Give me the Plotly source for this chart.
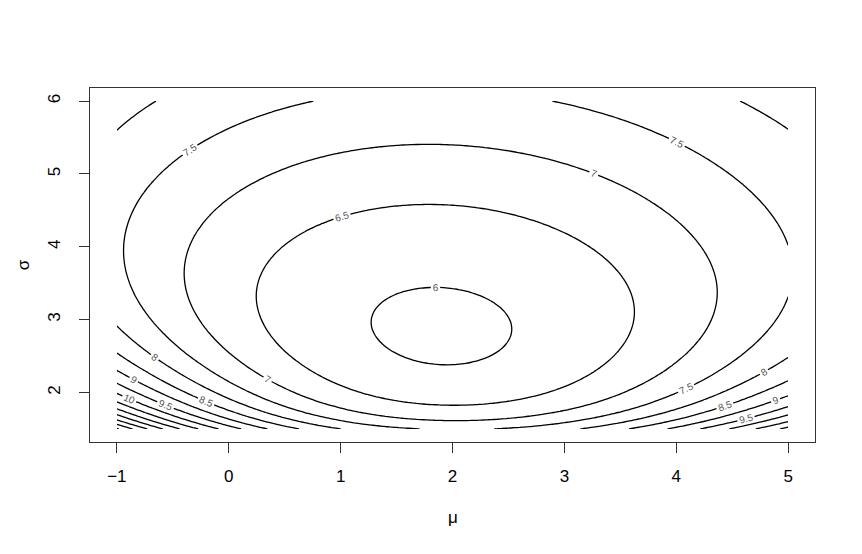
import numpy as np
import plotly.graph_objects as go

# contour crossings, one list per level: (mu, sigma)
pts_6 = [(1.914, 3.41), (1.4375, 3.30), (1.29, 2.98), (1.265, 2.90), (1.93, 2.38),
         (2.05, 3.39), (2.375, 3.21), (2.54, 2.91), (2.547, 2.90)]
pts_6_5 = [(1.825, 4.54), (1.14, 4.48), (0.694, 4.32), (0.426, 3.99), (0.277, 3.44),
           (0.268, 3.25), (0.32, 2.91), (2.05, 4.54), (2.67, 4.41), (3.12, 4.13),
           (3.48, 3.72), (3.64, 3.26), (3.60, 2.91), (1.96, 1.85)]
pts_7 = [(1.825, 5.38), (1.14, 5.33), (0.545, 5.17), (0.098, 4.87), (-0.2, 4.45),
         (-0.363, 3.90), (-0.378, 3.62), (-0.229, 2.91), (1.96, 5.38), (2.82, 5.22),
         (3.42, 4.87), (3.86, 4.45), (4.25, 3.90), (4.38, 3.44), (4.28, 2.91),
         (2.0, 1.62), (-0.05, 2.58), (4.09, 2.58)]
pts_7_5 = [(0.872, 6.0), (0.247, 5.70), (-0.348, 5.32), (-0.646, 4.87), (-0.884, 4.36),
           (-0.944, 3.99), (-0.854, 3.44), (-0.646, 2.91), (2.985, 6.0), (3.15, 5.93),
           (3.30, 5.885), (4.01, 5.42), (4.46, 4.96), (4.76, 4.55), (5.0, 4.18),
           (5.0, 3.35), (4.875, 2.91), (1.32, 1.52), (2.67, 1.54), (-0.4375, 2.58),
           (4.59, 2.58)]
pts_8 = [(-1.0, 2.88), (-1.0, 5.63), (-0.64, 6.0), (-0.81, 5.84), (4.58, 6.0),
         (4.70, 5.91), (5.0, 5.62), (5.0, 2.51), (0.81, 1.52), (3.19, 1.52),
         (-0.765, 2.58)]
pts_8_5 = [(-1.0, 2.52), (5.0, 2.18), (0.35, 1.575), (3.67, 1.53)]
pts_9 = [(-1.0, 2.29), (5.0, 1.95), (0.024, 1.62), (4.09, 1.56)]
pts_9_5 = [(-1.0, 2.11), (5.0, 1.80), (-0.26, 1.66), (4.34, 1.53)]
pts_10 = [(-1.0, 1.97), (5.0, 1.67), (-0.616, 1.73), (4.61, 1.53)]
pts_10_5 = [(-1.0, 1.87), (5.0, 1.56)]
pts_11 = [(-1.0, 1.77)]
pts_11_5 = [(-1.0, 1.70)]
pts_12 = [(-1.0, 1.64), (-0.81, 1.53)]
pts_12_5 = [(-1.0, 1.59)]
pts_13 = [(-1.0, 1.54)]
pts_13_5 = [(-1.0, 1.50)]

levels = [6, 6.5, 7, 7.5, 8, 8.5, 9, 9.5, 10, 10.5, 11, 11.5, 12, 12.5, 13, 13.5]
crossings = [pts_6, pts_6_5, pts_7, pts_7_5, pts_8, pts_8_5, pts_9, pts_9_5, pts_10,
             pts_10_5, pts_11, pts_11_5, pts_12, pts_12_5, pts_13, pts_13_5]

mu_grid = np.linspace(-1, 5, 151)
sigma_grid = np.linspace(1.5, 6, 121)


def basis(mu, s):
    u = np.asarray(mu, dtype=float) - 2.0
    s = np.asarray(s, dtype=float)
    return np.stack([np.ones_like(u), np.log(s), 1 / s, 1 / s**2, 1 / s**3, s,
                     u, u / s, u / s**2, u * np.log(s), u**2, u**2 / s, u**2 / s**2,
                     u**2 / s**3, u**2 * np.log(s), u**3 / s**2, u**4 / s**2,
                     u**3 / s, u**4 / s], axis=-1)


# smooth surface through the read-off crossings
mu_pts = np.array([p[0] for pts in crossings for p in pts])
sigma_pts = np.array([p[1] for pts in crossings for p in pts])
level_pts = np.array([lv for lv, pts in zip(levels, crossings) for _ in pts], dtype=float)

A = basis(mu_pts, sigma_pts)
w = np.ones(len(level_pts))
h = 1e-4
for _ in range(4):
    # weight each crossing by 1/|gradient| so the fit works in distance, not in level
    coef, *_ = np.linalg.lstsq(A * w[:, None], level_pts * w, rcond=None)
    gx = (basis(mu_pts + h, sigma_pts) - basis(mu_pts - h, sigma_pts)) @ coef / (2 * h)
    gy = (basis(mu_pts, sigma_pts + h) - basis(mu_pts, sigma_pts - h)) @ coef / (2 * h)
    # screen scale: 112 px per unit of mu, 72 px per unit of sigma
    w = 1 / np.maximum(np.hypot(gx / 112, gy / 72), 1e-3)
    w = w / w.mean()

M, S = np.meshgrid(mu_grid, sigma_grid)
Z = basis(M, S) @ coef

fig = go.Figure(go.Contour(
    x=mu_grid, y=sigma_grid, z=Z,
    contours=dict(coloring='lines', start=6, end=14, size=0.5, showlabels=True,
                  labelfont=dict(size=10, color='#555555', family='Liberation Sans')),
    colorscale=[[0, 'black'], [1, 'black']],
    showscale=False,
    line=dict(width=1.3),
    hoverinfo='skip',
))

axis_font = dict(family='Liberation Sans', size=17, color='black')
# page body has an 8px margin, so the plot box is shifted back by that much
fig.update_layout(
    width=862, height=554,
    margin=dict(l=82, r=55, t=80, b=120),
    plot_bgcolor='white', paper_bgcolor='white',
    showlegend=False,
    xaxis=dict(range=[-1.24, 5.24], tickvals=[-1, 0, 1, 2, 3, 4, 5],
               ticktext=['\u22121', '0', '1', '2', '3', '4', '5'],
               ticks='outside', ticklen=10, tickcolor='#333333',
               ticklabelstandoff=9,
               showline=True, linecolor='#333333', linewidth=1, mirror=True,
               showgrid=False, zeroline=False, tickfont=axis_font),
    yaxis=dict(range=[1.32, 6.18], tickvals=[2, 3, 4, 5, 6], tickangle=-90,
               ticks='outside', ticklen=10, tickcolor='#333333',
               ticklabelstandoff=12,
               showline=True, linecolor='#333333', linewidth=1, mirror=True,
               showgrid=False, zeroline=False, tickfont=axis_font),
    annotations=[
        dict(text='\u03bc', x=0.5, y=-0.212, xref='paper', yref='paper',
             showarrow=False, font=axis_font, xanchor='center', yanchor='middle'),
        dict(text='\u03c3', x=-0.092, y=0.5, xref='paper', yref='paper',
             showarrow=False, font=axis_font, textangle=-90,
             xanchor='center', yanchor='middle'),
    ],
)

fig.write_html("out.html")
